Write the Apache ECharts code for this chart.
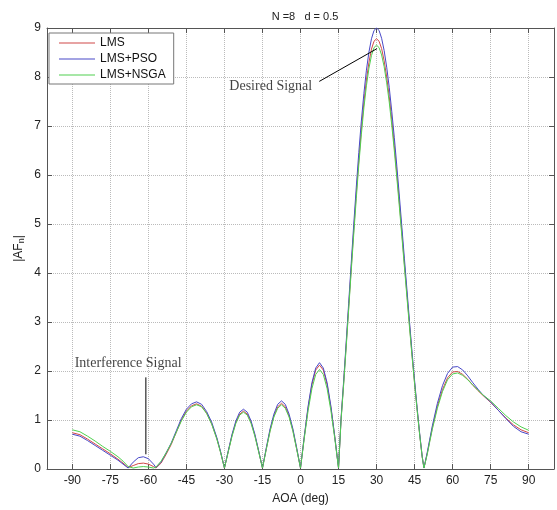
<!DOCTYPE html>
<html><head><meta charset="utf-8">
<script src="https://cdn.jsdelivr.net/npm/echarts@6/dist/echarts.min.js"></script>
<style>html,body{margin:0;padding:0;background:#fff}#c{width:557px;height:510px}</style>
</head><body><div id="c"></div>
<script>
const angles = [-90,-87,-84,-81,-78,-75,-72,-70,-68,
 -66,-64,-62,-60,-58,-57,
 -55,-53,-51,-49,-47,-45,-43,-41,-39,-37,-35,-33,-31.5,-30,
 -28.5,-27,-25.5,-24,-22.5,-21,-19.5,-18,-16.5,-15,
 -13.5,-12,-10.5,-9,-7.5,-6,-4.5,-3,-1.5,0,
 1.5,3,4.5,6,7.5,9,10.5,12,13.5,15,
 16,17,18,19,20,21,22,23,24,25,26,27,28,29,30,31,32,33,34,35,36,37,38,39,40,41,42,43,44,45,46,47,48,48.7,
 50,51,52,54,56,58,60,62,64,66,68,70,72,75,78,81,84,87,90];

const lms = [0.74,0.70,0.61,0.51,0.41,0.31,0.20,0.12,0.03,
 0.07,0.11,0.12,0.10,0.05,0.02,
 0.12,0.30,0.50,0.75,1.00,1.18,1.29,1.33,1.28,1.14,0.92,0.62,0.34,0.02,
 0.36,0.69,0.95,1.12,1.18,1.12,0.95,0.69,0.36,0.02,
 0.41,0.79,1.08,1.27,1.34,1.27,1.08,0.79,0.41,0.02,
 0.66,1.25,1.72,2.02,2.12,2.02,1.72,1.25,0.66,0.02,
 1.01,1.74,2.51,3.30,4.09,4.87,5.61,6.30,6.92,7.48,7.94,8.30,8.57,8.73,8.78,8.73,8.58,8.33,8.00,7.60,7.13,6.60,6.03,5.43,4.81,4.18,3.56,2.94,2.33,1.76,1.22,0.71,0.25,0.02,
 0.32,0.58,0.84,1.28,1.62,1.86,1.98,1.99,1.93,1.83,1.71,1.60,1.50,1.36,1.20,1.04,0.90,0.80,0.74];

const lmsPso = [0.71,0.67,0.58,0.48,0.38,0.28,0.18,0.10,0.02,
 0.14,0.23,0.25,0.21,0.10,0.03,
 0.14,0.33,0.53,0.78,1.03,1.22,1.33,1.37,1.32,1.17,0.95,0.64,0.35,0.02,
 0.37,0.71,0.98,1.16,1.22,1.16,0.98,0.71,0.37,0.02,
 0.43,0.82,1.12,1.32,1.39,1.32,1.12,0.82,0.43,0.02,
 0.67,1.28,1.76,2.06,2.17,2.06,1.76,1.28,0.67,0.02,
 1.03,1.78,2.57,3.38,4.19,4.99,5.75,6.46,7.10,7.66,8.14,8.51,8.78,8.95,9.00,8.95,8.79,8.54,8.20,7.79,7.30,6.77,6.18,5.57,4.93,4.29,3.65,3.01,2.39,1.81,1.25,0.73,0.26,0.02,
 0.34,0.61,0.88,1.34,1.70,1.95,2.08,2.09,2.02,1.90,1.76,1.63,1.51,1.37,1.20,1.03,0.87,0.76,0.71];

const lmsNsga = [0.80,0.76,0.67,0.57,0.46,0.36,0.25,0.16,0.05,
 0.02,0.04,0.05,0.04,0.02,0.04,
 0.16,0.33,0.52,0.75,0.98,1.16,1.27,1.31,1.27,1.13,0.91,0.61,0.33,0.02,
 0.35,0.67,0.93,1.10,1.16,1.10,0.93,0.67,0.35,0.02,
 0.40,0.77,1.06,1.24,1.31,1.24,1.06,0.77,0.40,0.02,
 0.63,1.19,1.64,1.93,2.03,1.93,1.64,1.19,0.63,0.02,
 0.99,1.71,2.47,3.25,4.03,4.79,5.52,6.21,6.82,7.37,7.82,8.18,8.44,8.60,8.65,8.60,8.45,8.21,7.88,7.49,7.02,6.50,5.94,5.35,4.74,4.12,3.50,2.89,2.30,1.74,1.20,0.70,0.25,0.02,
 0.30,0.56,0.81,1.24,1.58,1.82,1.94,1.96,1.91,1.82,1.71,1.61,1.51,1.39,1.24,1.09,0.96,0.86,0.79];

const seriesNames = ['LMS','LMS+PSO','LMS+NSGA'];
const seriesColors = ['#d04848','#4848c8','#50d050'];
const xTicks = [-90,-75,-60,-45,-30,-15,0,15,30,45,60,75,90];
const desiredArrow = [[7.4,7.91],[30.2,8.58]];
const desiredLabel = [[4.6,7.81,'Desired Signal']];
const interfLine = [[-61,1.87],[-61,0.3]];
const interfLabel = [[-68,2.15,'Interference Signal']];

const FONT = 'Liberation Sans';
const axisCol = '#555';
const chart = echarts.init(document.getElementById('c'), null, {renderer:'canvas'});

const valueSeries = [lms, lmsPso, lmsNsga].map((vals, k) => ({
  name: seriesNames[k], type: 'line', symbol: 'none', showSymbol: false,
  data: angles.map((a, i) => [a, vals[i]]),
  lineStyle: {width: 1, color: seriesColors[k]}, itemStyle: {color: seriesColors[k]},
  animation: false, z: 3
}));

const annot = [
  {type:'line', data: desiredArrow, symbol:'none', lineStyle:{color:'#000',width:1}, silent:true, animation:false, z:5},
  {type:'line', data: interfLine, symbol:'none', lineStyle:{color:'#000',width:1}, silent:true, animation:false, z:5},
  {type:'scatter', data: desiredLabel, symbolSize: 0, silent:true, animation:false, z:6,
   label:{show:true, position:'left', distance:0, formatter: p => p.data[2], fontFamily:'Liberation Serif', fontSize:14, color:'#111'}},
  {type:'scatter', data: interfLabel, symbolSize: 0, silent:true, animation:false, z:6,
   label:{show:true, position:'inside', formatter: p => p.data[2], fontFamily:'Liberation Serif', fontSize:14, color:'#111'}}
];

const xBase = {type:'value', min:-100, max:100,
  axisLine:{show:true, onZero:false, lineStyle:{color:axisCol, width:1}},
  axisTick:{show:true, inside:true, length:5, customValues:xTicks, lineStyle:{color:axisCol}}};
const yBase = {type:'value', min:0, max:9, interval:1,
  axisLine:{show:true, onZero:false, lineStyle:{color:axisCol, width:1}},
  axisTick:{show:true, inside:true, length:5, lineStyle:{color:axisCol}}};

chart.setOption({
  animation: false,
  backgroundColor: '#fff',
  title: {text:'N =8   d = 0.5', left: 300, textAlign:'center', top: 6,
    textStyle:{fontSize:11, fontWeight:'normal', fontFamily:FONT, color:'#222'}},
  grid: {left:47, right:3, top:28, bottom:38, containLabel:false},
  legend: {data: seriesNames, orient:'vertical', left:49, top:33,
    backgroundColor:'#fff', borderColor:'#777', borderWidth:1, borderRadius:0,
    padding:[4,8,3,10], itemGap:4, itemWidth:36, itemHeight:14,
    icon:'path://M0,0 L36,0 L36,1 L0,1 Z',
    textStyle:{fontSize:12, fontFamily:FONT, color:'#111'}},
  xAxis: [
    Object.assign({}, xBase, {position:'bottom',
      axisLabel:{show:true, customValues:xTicks, color:'#222', fontSize:12, fontFamily:FONT, margin:6},
      splitLine:{show:true, lineStyle:{type:'dotted', color:'#bbb', width:1}},
      name:'AOA (deg)', nameLocation:'middle', nameGap:24, nameMoveOverlap:false,
      nameTextStyle:{fontSize:12, fontFamily:FONT, color:'#222'}}),
    Object.assign({}, xBase, {position:'top', axisLabel:{show:false}, splitLine:{show:false}})
  ],
  yAxis: [
    Object.assign({}, yBase, {position:'left',
      axisLabel:{show:true, color:'#222', fontSize:12, fontFamily:FONT, margin:6},
      splitLine:{show:true, lineStyle:{type:'dotted', color:'#bbb', width:1}},
      name:'|AF{s|n}|', nameLocation:'middle', nameGap:21, nameMoveOverlap:false,
      nameTextStyle:{fontSize:12, fontFamily:FONT, color:'#222',
        rich:{s:{fontSize:9, fontFamily:FONT, color:'#222', verticalAlign:'bottom', padding:[6,0,0,0]}}}}),
    Object.assign({}, yBase, {position:'right', axisLabel:{show:false}, splitLine:{show:false}})
  ],
  series: valueSeries.concat(annot)
});
</script>
</body></html>
